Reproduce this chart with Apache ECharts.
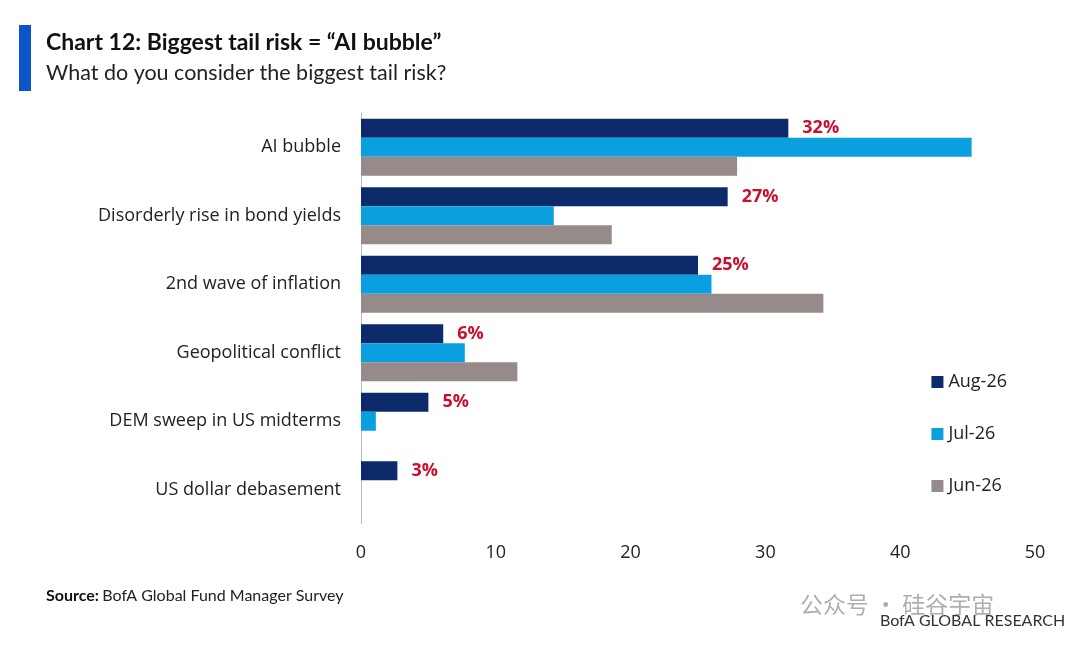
<!DOCTYPE html>
<html><head><meta charset="utf-8">
<script src="https://cdn.jsdelivr.net/npm/echarts@6/dist/echarts.min.js"></script>
<style>html,body{margin:0;background:#fff}#c{width:1080px;height:653px}</style>
</head><body><div id="c"></div>
<script>
const categories = ["AI bubble","Disorderly rise in bond yields","2nd wave of inflation","Geopolitical conflict","DEM sweep in US midterms","US dollar debasement"];
const aug = [31.7,27.2,25,6.1,5,2.7];
const jul = [45.3,14.3,26,7.7,1.1,0];
const jun = [27.9,18.6,34.3,11.6,0,0];
const augLabels = ["32%","27%","25%","6%","5%","3%"];
const xTicks = [0,10,20,30,40,50];
const font = "'Open Sans', sans-serif";
const chart = echarts.init(document.getElementById('c'));
chart.setOption({
  animation:false,
  grid:{left:361,right:45,top:113,bottom:129,containLabel:false},
  legend:{orient:'vertical',right:68,top:368,itemGap:34,itemWidth:12,itemHeight:12,icon:'rect',
    textStyle:{fontSize:18,color:'#222',fontFamily:font},data:['Aug-26','Jul-26','Jun-26']},
  xAxis:{type:'value',min:0,max:50,interval:10,splitLine:{show:false},axisLine:{show:false},axisTick:{show:false},
    axisLabel:{fontSize:18,color:'#222',margin:20,fontFamily:font}},
  yAxis:{type:'category',inverse:true,data:categories,axisTick:{show:false},
    axisLine:{show:true,lineStyle:{color:'#bbb'}},
    axisLabel:{fontSize:18,color:'#222',margin:20,fontFamily:font}},
  series:[
    {name:'Aug-26',type:'bar',data:aug,barWidth:19,barGap:'0%',itemStyle:{color:'#0d2a6b'},
     label:{show:true,position:'right',distance:14,formatter:p=>augLabels[p.dataIndex],color:'#c8102e',fontWeight:'bold',fontSize:18,fontFamily:font}},
    {name:'Jul-26',type:'bar',data:jul,barWidth:19,barGap:'0%',itemStyle:{color:'#0aa0e0'}},
    {name:'Jun-26',type:'bar',data:jun,barWidth:19,barGap:'0%',itemStyle:{color:'#968a8a'}}
  ],
  graphic:[
    {type:'rect',shape:{x:19,y:25,width:12,height:66},style:{fill:'#0a55c8'}},
    {type:'text',left:46,top:31,style:{text:'Chart 12: Biggest tail risk = “AI bubble”',fontSize:23,fontWeight:'bold',fill:'#111',fontFamily:"Lato, sans-serif"}},
    {type:'text',left:46,top:62,style:{text:'What do you consider the biggest tail risk?',fontSize:21.5,fill:'#222',fontFamily:"Lato, sans-serif"}},
    {type:'text',left:46,top:588,style:{rich:{b:{fontWeight:'bold',fontSize:16,fill:'#111',fontFamily:"Lato, sans-serif"},n:{fontSize:16,fill:'#222',fontFamily:"Lato, sans-serif"}},text:'{b|Source:} {n|BofA Global Fund Manager Survey}'}},
    {type:'text',left:800,top:593,style:{text:'公众号 · 硅谷宇宙',fontSize:23,fill:'rgba(120,120,120,0.6)',fontFamily:"'Noto Sans CJK SC'"}},
    {type:'text',left:880,top:613,style:{text:'BofA GLOBAL RESEARCH',fontSize:16,fill:'#333',fontFamily:"Lato, sans-serif"}}
  ]
});
</script></body></html>
